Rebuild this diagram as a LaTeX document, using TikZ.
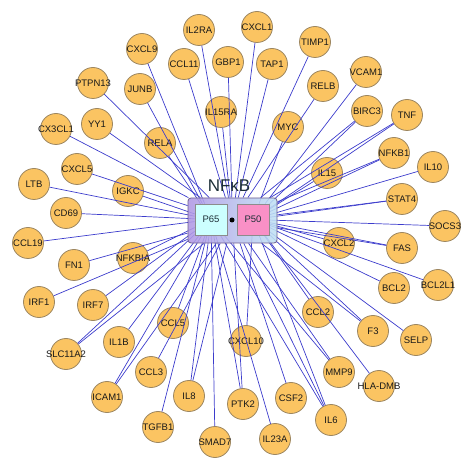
\documentclass[tikz,border=0pt]{standalone}
\usepackage{fontspec}
\setmainfont{Liberation Sans}
\usepackage{xcolor}
\definecolor{ggold}{HTML}{FBC462}
\definecolor{ggoldline}{HTML}{9C8660}
\definecolor{gedge}{HTML}{3C3CCC}
\definecolor{nfpurple}{HTML}{B097E4}
\definecolor{nfcyan}{HTML}{C0E2F4}
\definecolor{nfline}{HTML}{6B5C8E}
\definecolor{pcyan}{HTML}{CCFFFF}
\definecolor{ppink}{HTML}{F990C6}
\definecolor{ptext}{HTML}{1C2E36}
\pgfdeclarelayer{front}
\pgfsetlayers{main,front}
% gene names may run over the circle edge
\newcommand{\gname}[1]{\makebox[0pt]{#1}}

\begin{document}
\begin{tikzpicture}[x=1pt, y=-1pt,
  gene/.style={circle, draw=ggoldline, line width=0.8pt, fill=ggold, minimum size=31pt, inner sep=0pt, font=\fontsize{9.5}{10}\selectfont, text=black!90},
  link/.style={draw=gedge, line width=0.7pt},
  subunit/.style={draw=black!45, line width=0.6pt, minimum width=32pt, minimum height=31pt, inner sep=0pt, font=\fontsize{9.5}{10}\selectfont, text=ptext}]
  \useasboundingbox (0,0) rectangle (474,470);

  % complex on top of the links
  \begin{pgfonlayer}{front}
  \node[draw=nfline, line width=0.8pt, left color=nfpurple, right color=nfcyan, fill opacity=0.88, rounded corners=3pt, minimum width=89pt, minimum height=45pt, inner sep=0pt] (nfkb) at (232.5,220.5) {};
  \node[subunit, fill=pcyan] (p65) at (211,219.5) {P65};
  \node[subunit, fill=ppink] (p50) at (253,219.5) {P50};
  \node[circle, fill=black, inner sep=0pt, minimum size=5pt] (bond) at (232,220) {};
  \node[font=\fontsize{17}{18}\selectfont, text=ptext, inner sep=0pt] (nfkblabel) at (229,186) {NFκB};
  \end{pgfonlayer}

  % genes
  \node[gene] (il2ra) at (199,30) {\gname{IL2RA}};
  \node[gene] (cxcl1) at (257,27) {\gname{CXCL1}};
  \node[gene] (cxcl9) at (142,49) {\gname{CXCL9}};
  \node[gene] (ccl11) at (184,64) {\gname{CCL11}};
  \node[gene] (gbp1) at (228,62) {\gname{GBP1}};
  \node[gene] (tap1) at (272,64) {\gname{TAP1}};
  \node[gene] (timp1) at (315,42) {\gname{TIMP1}};
  \node[gene] (relb) at (323,86) {\gname{RELB}};
  \node[gene] (vcam1) at (366,72) {\gname{VCAM1}};
  \node[gene] (ptpn13) at (93,83) {\gname{PTPN13}};
  \node[gene] (junb) at (140,89) {\gname{JUNB}};
  \node[gene] (il15ra) at (221,112) {\gname{IL15RA}};
  \node[gene] (myc) at (288,127) {\gname{MYC}};
  \node[gene] (birc3) at (367,111) {\gname{BIRC3}};
  \node[gene] (tnf) at (407,115) {\gname{TNF}};
  \node[gene] (cx3cl1) at (56,129) {\gname{CX3CL1}};
  \node[gene] (yy1) at (97,124) {\gname{YY1}};
  \node[gene] (rela) at (160,143) {\gname{RELA}};
  \node[gene] (nfkb1) at (394,153) {\gname{NFKB1}};
  \node[gene] (il15) at (327,173) {\gname{IL15}};
  \node[gene] (il10) at (433,167) {\gname{IL10}};
  \node[gene] (cxcl5) at (77,169) {\gname{CXCL5}};
  \node[gene] (ltb) at (34,184) {\gname{LTB}};
  \node[gene] (igkc) at (128,191) {\gname{IGKC}};
  \node[gene] (stat4) at (402,199) {\gname{STAT4}};
  \node[gene] (cd69) at (66,213) {\gname{CD69}};
  \node[gene] (socs3) at (445,226) {\gname{SOCS3}};
  \node[gene] (ccl19) at (28,243) {\gname{CCL19}};
  \node[gene] (cxcl2) at (339,243) {\gname{CXCL2}};
  \node[gene] (fas) at (402,248) {\gname{FAS}};
  \node[gene] (fn1) at (74,265) {\gname{FN1}};
  \node[gene] (nfkbia) at (133,258) {\gname{NFKBIA}};
  \node[gene] (bcl2) at (394,288) {\gname{BCL2}};
  \node[gene] (bcl2l1) at (438,285) {\gname{BCL2L1}};
  \node[gene] (irf1) at (39,302) {\gname{IRF1}};
  \node[gene] (irf7) at (93,305) {\gname{IRF7}};
  \node[gene] (ccl2) at (318,312) {\gname{CCL2}};
  \node[gene] (ccl5) at (173,323) {\gname{CCL5}};
  \node[gene] (f3) at (373,331) {\gname{F3}};
  \node[gene] (selp) at (416,340) {\gname{SELP}};
  \node[gene] (il1b) at (119,342) {\gname{IL1B}};
  \node[gene] (slc11a2) at (66,354) {\gname{SLC11A2}};
  \node[gene] (cxcl10) at (246,341) {\gname{CXCL10}};
  \node[gene] (ccl3) at (151,372) {\gname{CCL3}};
  \node[gene] (mmp9) at (339,372) {\gname{MMP9}};
  \node[gene] (hladmb) at (379,386) {\gname{HLA-DMB}};
  \node[gene] (icam1) at (107,397) {\gname{ICAM1}};
  \node[gene] (il8) at (189,396) {\gname{IL8}};
  \node[gene] (ptk2) at (243,404) {\gname{PTK2}};
  \node[gene] (csf2) at (291,398) {\gname{CSF2}};
  \node[gene] (il6) at (331,420) {\gname{IL6}};
  \node[gene] (tgfb1) at (158,427) {\gname{TGFB1}};
  \node[gene] (smad7) at (215,442) {\gname{SMAD7}};
  \node[gene] (il23a) at (275,439) {\gname{IL23A}};

  % links to the complex and its subunits
  \draw[link] (il2ra) -- (nfkb);
  \draw[link] (cxcl1) -- (nfkb);
  \draw[link] (cxcl9) -- (p65);
  \draw[link] (ccl11) -- (nfkb);
  \draw[link] (gbp1) -- (nfkb);
  \draw[link] (tap1) -- (nfkb);
  \draw[link] (timp1) -- (nfkb);
  \draw[link] (relb) -- (nfkb);
  \draw[link] (vcam1) -- (p50);
  \draw[link] (ptpn13) -- (nfkb);
  \draw[link] (junb) -- (p65);
  \draw[link] (il15ra) -- (nfkb);
  \draw[link] (myc) -- (p50);
  \draw[link] (birc3) -- (p50);
  \draw[link] (birc3) -- (nfkb);
  \draw[link] (tnf) -- (p50);
  \draw[link] (tnf) -- (nfkb);
  \draw[link] (cx3cl1) -- (nfkb);
  \draw[link] (yy1) -- (nfkb);
  \draw[link] (rela) -- (p65);
  \draw[link] (nfkb1) -- (p50);
  \draw[link] (nfkb1) -- (nfkb);
  \draw[link] (il15) -- (p50);
  \draw[link] (il10) -- (p50);
  \draw[link] (cxcl5) -- (nfkb);
  \draw[link] (ltb) -- (p65);
  \draw[link] (igkc) -- (p65);
  \draw[link] (stat4) -- (p50);
  \draw[link] (stat4) -- (nfkb);
  \draw[link] (cd69) -- (p65);
  \draw[link] (socs3) -- (p50);
  \draw[link] (ccl19) -- (p65);
  \draw[link] (cxcl2) -- (p50);
  \draw[link] (fas) -- (p50);
  \draw[link] (fas) -- (nfkb);
  \draw[link] (fn1) -- (nfkb);
  \draw[link] (nfkbia) -- (p65);
  \draw[link] (bcl2) -- (p50);
  \draw[link] (bcl2l1) -- (p50);
  \draw[link] (irf1) -- (nfkb);
  \draw[link] (irf7) -- (p65);
  \draw[link] (ccl2) -- (p50);
  \draw[link] (ccl5) -- (p65);
  \draw[link] (f3) -- (p50);
  \draw[link] (f3) -- (nfkb);
  \draw[link] (selp) -- (p50);
  \draw[link] (il1b) -- (p65);
  \draw[link] (slc11a2) -- (p65);
  \draw[link] (slc11a2) -- (nfkb);
  \draw[link] (cxcl10) -- (p50);
  \draw[link] (ccl3) -- (nfkb);
  \draw[link] (mmp9) -- (p65);
  \draw[link] (mmp9) -- (nfkb);
  \draw[link] (hladmb) -- (p50);
  \draw[link] (icam1) -- (p65);
  \draw[link] (icam1) -- (nfkb);
  \draw[link] (il8) -- (p65);
  \draw[link] (il8) -- (nfkb);
  \draw[link] (ptk2) -- (p65);
  \draw[link] (ptk2) -- (nfkb);
  \draw[link] (csf2) -- (nfkb);
  \draw[link] (il6) -- (p65);
  \draw[link] (il6) -- (p50);
  \draw[link] (il6) -- (nfkb);
  \draw[link] (tgfb1) -- (p65);
  \draw[link] (smad7) -- (p65);
  \draw[link] (il23a) -- (p65);
\end{tikzpicture}
\end{document}
